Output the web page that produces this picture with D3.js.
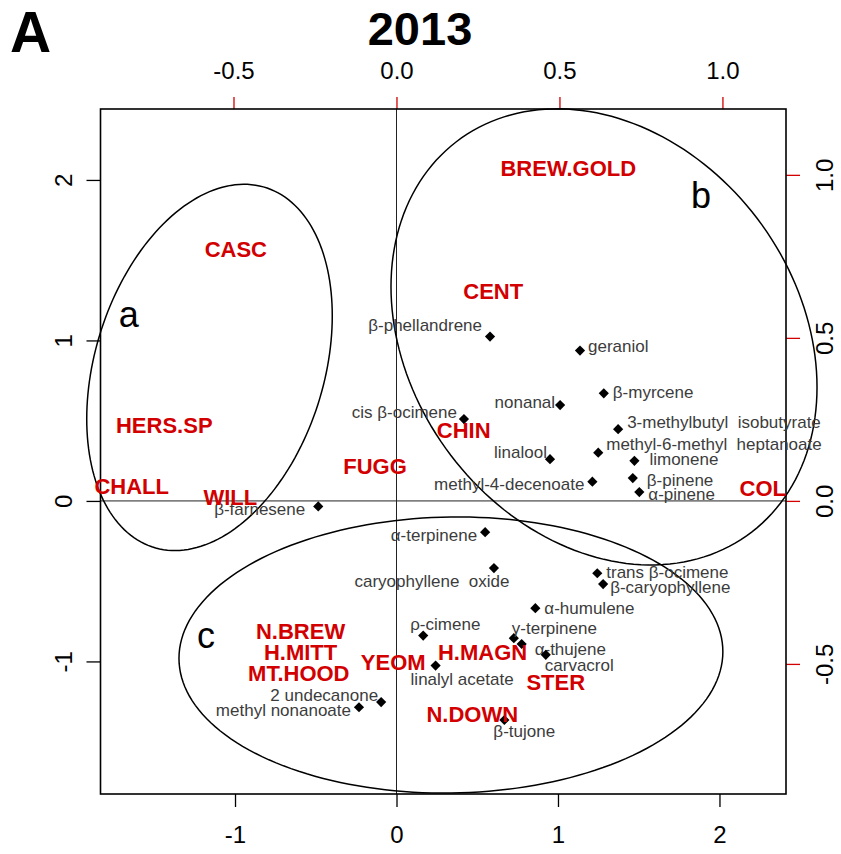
<!DOCTYPE html>
<html>
<head>
<meta charset="utf-8">
<script src="https://cdn.jsdelivr.net/npm/d3@7"></script>
<style>
  body { margin: 0; background: #fff; }
  svg { font-family: "Liberation Sans", Arial, sans-serif; }
</style>
</head>
<body>
<svg id="biplot" width="841" height="854"></svg>
<script>
// hop varieties (scores, bottom/left axes)
const hops = ["BREW.GOLD", "CASC", "CENT", "HERS.SP", "CHALL", "WILL", "FUGG", "CHIN", "COL",
  "N.BREW", "H.MITT", "MT.HOOD", "YEOM", "H.MAGN", "STER", "N.DOWN"];
const hopX = [1.064, -0.995, 0.599, -1.438, -1.640, -1.029, -0.133, 0.416, 2.268,
  -0.594, -0.594, -0.605, -0.020, 0.533, 0.986, 0.469];
const hopY = [2.077, 1.567, 1.307, 0.474, 0.092, 0.027, 0.215, 0.442, 0.083,
  -0.814, -0.939, -1.071, -1.001, -0.941, -1.128, -1.325];

// volatile compounds (loadings, top/right axes)
const compounds = ["β-phellandrene", "geraniol", "β-myrcene", "nonanal", "cis β-ocimene",
  "3-methylbutyl  isobutyrate", "methyl-6-methyl  heptanoate", "linalool", "limonene",
  "methyl-4-decenoate", "β-pinene", "α-pinene", "β-farnesene", "α-terpinene",
  "caryophyllene  oxide", "trans β-ocimene", "β-caryophyllene", "α-humulene", "ρ-cimene",
  "γ-terpinene", "α-thujene", "carvacrol", "linalyl acetate", "2 undecanone",
  "methyl nonanoate", "β-tujone"];
const compX = [0.287, 0.563, 0.636, 0.502, 0.207, 0.680, 0.619, 0.471, 0.730, 0.601, 0.725, 0.745,
  -0.240, 0.272, 0.299, 0.616, 0.634, 0.426, 0.082, 0.360, 0.384, 0.458, 0.120, -0.047, -0.115, 0.331];
const compY = [0.504, 0.461, 0.330, 0.294, 0.251, 0.220, 0.148, 0.128, 0.123, 0.059, 0.070, 0.027,
  -0.017, -0.096, -0.206, -0.222, -0.255, -0.329, -0.413, -0.421, -0.439, -0.472, -0.505, -0.617, -0.633, -0.672];

// group ellipses: centre and spread (variance x, variance y, covariance)
const groupNames = ["a", "b", "c"];
const groupCx = [-1.158, 1.285, 0.337];
const groupCy = [0.832, 1.022, -0.960];
const groupVx = [0.578, 1.740, 2.836];
const groupVy = [1.302, 2.019, 0.740];
const groupCov = [0.244, -0.413, 0.035];
const groupLabelX = [-1.658, 1.886, -1.180];
const groupLabelY = [1.086, 1.824, -0.918];

const bottomTicks = [-1, 0, 1, 2];
const leftTicks = [-1, 0, 1, 2];
const topTicks = [-0.5, 0.0, 0.5, 1.0];
const rightTicks = [-0.5, 0.0, 0.5, 1.0];

// label placement next to each diamond: [anchor, dx, dy] in px
const labelNudge = [
  ["end", -8, -12], ["start", 8, -5], ["start", 9, -1], ["end", -5, -3], ["end", -7, -7],
  ["start", 9, -7], ["start", 8, -9], ["end", -3, -7], ["start", 15, -2], ["end", -8, 2],
  ["start", 14, 2], ["start", 9, 2], ["end", -13, 3], ["end", -8, 3], ["middle", -62, 13],
  ["start", 9, -1], ["start", 7, 3], ["start", 9, 0], ["start", -13, -12], ["start", -2, -10],
  ["start", 13, 5], ["start", -1, 10], ["start", -25, 14], ["end", -3, -7], ["end", -8, 3],
  ["start", -11, 11]
];

const svg = d3.select("#biplot");
const box = {left: 100.5, right: 786, top: 109, bottom: 794};
const red = "#d20000";

const x = d3.scaleLinear().domain([-1.833, 2.412]).range([box.left, box.right]);
const y = d3.scaleLinear().domain([-1.826, 2.442]).range([box.bottom, box.top]);
const x2 = d3.scaleLinear().domain([-0.908, 1.195]).range([box.left, box.right]);
const y2 = d3.scaleLinear().domain([-0.899, 1.202]).range([box.bottom, box.top]);

// R style labels use a plain hyphen for minus
const fmtInt = d => String(d);
const fmtDec = d => d.toFixed(1);

// panel letter and title
svg.append("text").attr("x", 10).attr("y", 52)
  .attr("font-size", 57).attr("font-weight", "bold").text("A");
svg.append("text").attr("x", 420).attr("y", 45).attr("text-anchor", "middle")
  .attr("font-size", 47).attr("font-weight", "bold").text("2013");

// zero lines
svg.append("line").attr("x1", x(0)).attr("x2", x(0)).attr("y1", box.top).attr("y2", box.bottom)
  .attr("stroke", "#222").attr("stroke-width", 1);
svg.append("line").attr("x1", box.left).attr("x2", box.right).attr("y1", y(0)).attr("y2", y(0))
  .attr("stroke", "#222").attr("stroke-width", 1);

// axes
function styleAxis(g, color) {
  g.select(".domain").remove();
  g.selectAll(".tick line").attr("stroke", color).attr("stroke-width", 1.3);
  g.selectAll(".tick text").attr("fill", "#000").attr("font-size", 24)
    .attr("font-family", "'Liberation Sans', Arial, sans-serif");
}

const gBottom = svg.append("g").attr("transform", `translate(0,${box.bottom})`)
  .call(d3.axisBottom(x).tickValues(bottomTicks).tickSize(13).tickFormat(fmtInt));
styleAxis(gBottom, "#000");
gBottom.selectAll(".tick text").attr("y", 49).attr("dy", 0);

const gLeft = svg.append("g").attr("transform", `translate(${box.left},0)`)
  .call(d3.axisLeft(y).tickValues(leftTicks).tickSize(14).tickFormat(fmtInt));
styleAxis(gLeft, "#000");
gLeft.selectAll(".tick text").attr("x", 0).attr("y", -29).attr("dy", 0)
  .attr("text-anchor", "middle").attr("transform", "rotate(-90)");

const gTop = svg.append("g").attr("transform", `translate(0,${box.top})`)
  .call(d3.axisTop(x2).tickValues(topTicks).tickSize(12).tickFormat(fmtDec));
styleAxis(gTop, red);
gTop.selectAll(".tick text").attr("y", -30).attr("dy", 0);

const gRight = svg.append("g").attr("transform", `translate(${box.right},0)`)
  .call(d3.axisRight(y2).tickValues(rightTicks).tickSize(14).tickFormat(fmtDec));
styleAxis(gRight, red);
gRight.selectAll(".tick text").attr("x", 0).attr("y", 47).attr("dy", 0)
  .attr("text-anchor", "middle").attr("transform", "rotate(-90)");

// frame
svg.append("rect").attr("x", box.left).attr("y", box.top)
  .attr("width", box.right - box.left).attr("height", box.bottom - box.top)
  .attr("fill", "none").attr("stroke", "#000").attr("stroke-width", 1.6);

// ellipses
const line = d3.line().curve(d3.curveLinearClosed);
groupNames.forEach((name, i) => {
  const l11 = Math.sqrt(groupVx[i]);
  const l21 = groupCov[i] / l11;
  const l22 = Math.sqrt(groupVy[i] - l21 * l21);
  const pts = d3.range(0, 360, 2).map(a => {
    const t = a * Math.PI / 180;
    return [x(groupCx[i] + l11 * Math.cos(t)), y(groupCy[i] + l21 * Math.cos(t) + l22 * Math.sin(t))];
  });
  svg.append("path").attr("d", line(pts)).attr("fill", "none")
    .attr("stroke", "#000").attr("stroke-width", 1.5);
  svg.append("text").attr("x", x(groupLabelX[i])).attr("y", y(groupLabelY[i]))
    .attr("text-anchor", "middle").attr("font-size", 36).text(name);
});

// compound diamonds + labels
const diamond = d3.symbol().type(d3.symbolSquare).size(52);
const comp = svg.append("g").selectAll("g")
  .data(compounds)
  .enter().append("g")
  .attr("transform", (_, i) => `translate(${x2(compX[i])},${y2(compY[i])})`);
comp.append("path").attr("d", diamond).attr("transform", "rotate(45)").attr("fill", "#000");
comp.append("text")
  .text(d => d)
  .attr("x", (_, i) => labelNudge[i][1])
  .attr("y", (_, i) => labelNudge[i][2])
  .attr("dy", "0.35em")
  .attr("text-anchor", (_, i) => labelNudge[i][0])
  .attr("font-size", 17)
  .attr("fill", "#3c3c3c")
  .style("white-space", "pre");

// hop labels
svg.append("g").selectAll("text")
  .data(hops)
  .enter().append("text")
  .text(d => d)
  .attr("x", (_, i) => x(hopX[i]))
  .attr("y", (_, i) => y(hopY[i]))
  .attr("dy", "0.36em")
  .attr("text-anchor", "middle")
  .attr("font-size", 22)
  .attr("font-weight", "bold")
  .attr("fill", red);
</script>
</body>
</html>
